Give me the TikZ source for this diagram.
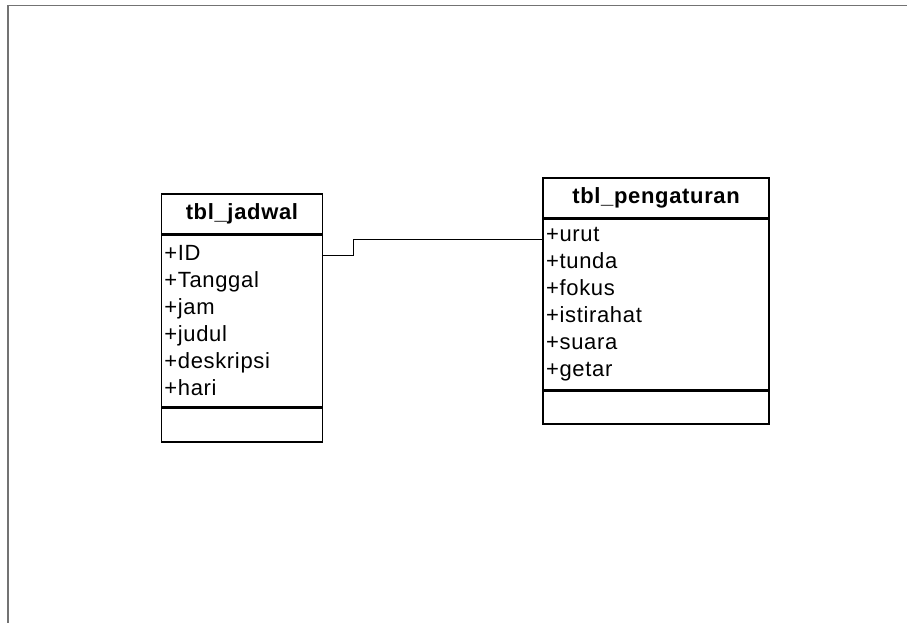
\documentclass[tikz,border=0pt]{standalone}
\usepackage{fontspec}
\setmainfont{Liberation Sans}[LetterSpace=3]
\usetikzlibrary{positioning}
\tikzstyle{header} = [rectangle, draw=black, line width=1.4pt, font=\fontsize{22}{25}\selectfont\bfseries, minimum height=40pt, inner sep=0pt]
\tikzstyle{attrs} = [rectangle, draw=black, line width=1.4pt, font=\fontsize{22}{27}\selectfont, align=left, minimum height=171pt, inner xsep=3pt, inner ysep=0pt]
\tikzstyle{footer} = [rectangle, draw=black, line width=1.4pt, minimum height=34pt, inner sep=0pt]
\tikzstyle{link} = [line width=1pt]
\tikzstyle{frame} = [draw=black!55, line width=1.6pt]

\begin{document}
\begin{tikzpicture}[x=1pt, y=1pt, node distance=0pt]
	\useasboundingbox (0,0) rectangle (907,-623);
	\draw[frame] (8,-623) -- (8,-5.5) -- (907,-5.5);

	% tbl_jadwal
	\node (jadwalTitle) [header, anchor=north west, minimum width=161pt] at (160.7,-193.4) {tbl\_jadwal};
	\node (jadwalAttr) [attrs, text width=155pt, below = of jadwalTitle] {+ID\\+Tanggal\\+jam\\+judul\\+deskripsi\\+hari};
	\node (jadwalOps) [footer, minimum width=161pt, below = of jadwalAttr] {};

	% tbl_pengaturan
	\node (aturTitle) [header, anchor=north west, minimum width=226pt] at (542.4,-177.4) {tbl\_pengaturan};
	\node (aturAttr) [attrs, text width=220pt, minimum height=170pt, below = of aturTitle] {+urut\\+tunda\\+fokus\\+istirahat\\+suara\\+getar};
	\node (aturOps) [footer, minimum width=226pt, minimum height=33pt, below = of aturAttr] {};

	\coordinate (jadwalPort) at ([yshift=-21pt]jadwalAttr.north east);
	\coordinate (aturPort) at ([yshift=-20.5pt]aturAttr.north west);
	\draw [link] (jadwalPort) -- ++(30pt,0) |- (aturPort);
\end{tikzpicture}
\end{document}
